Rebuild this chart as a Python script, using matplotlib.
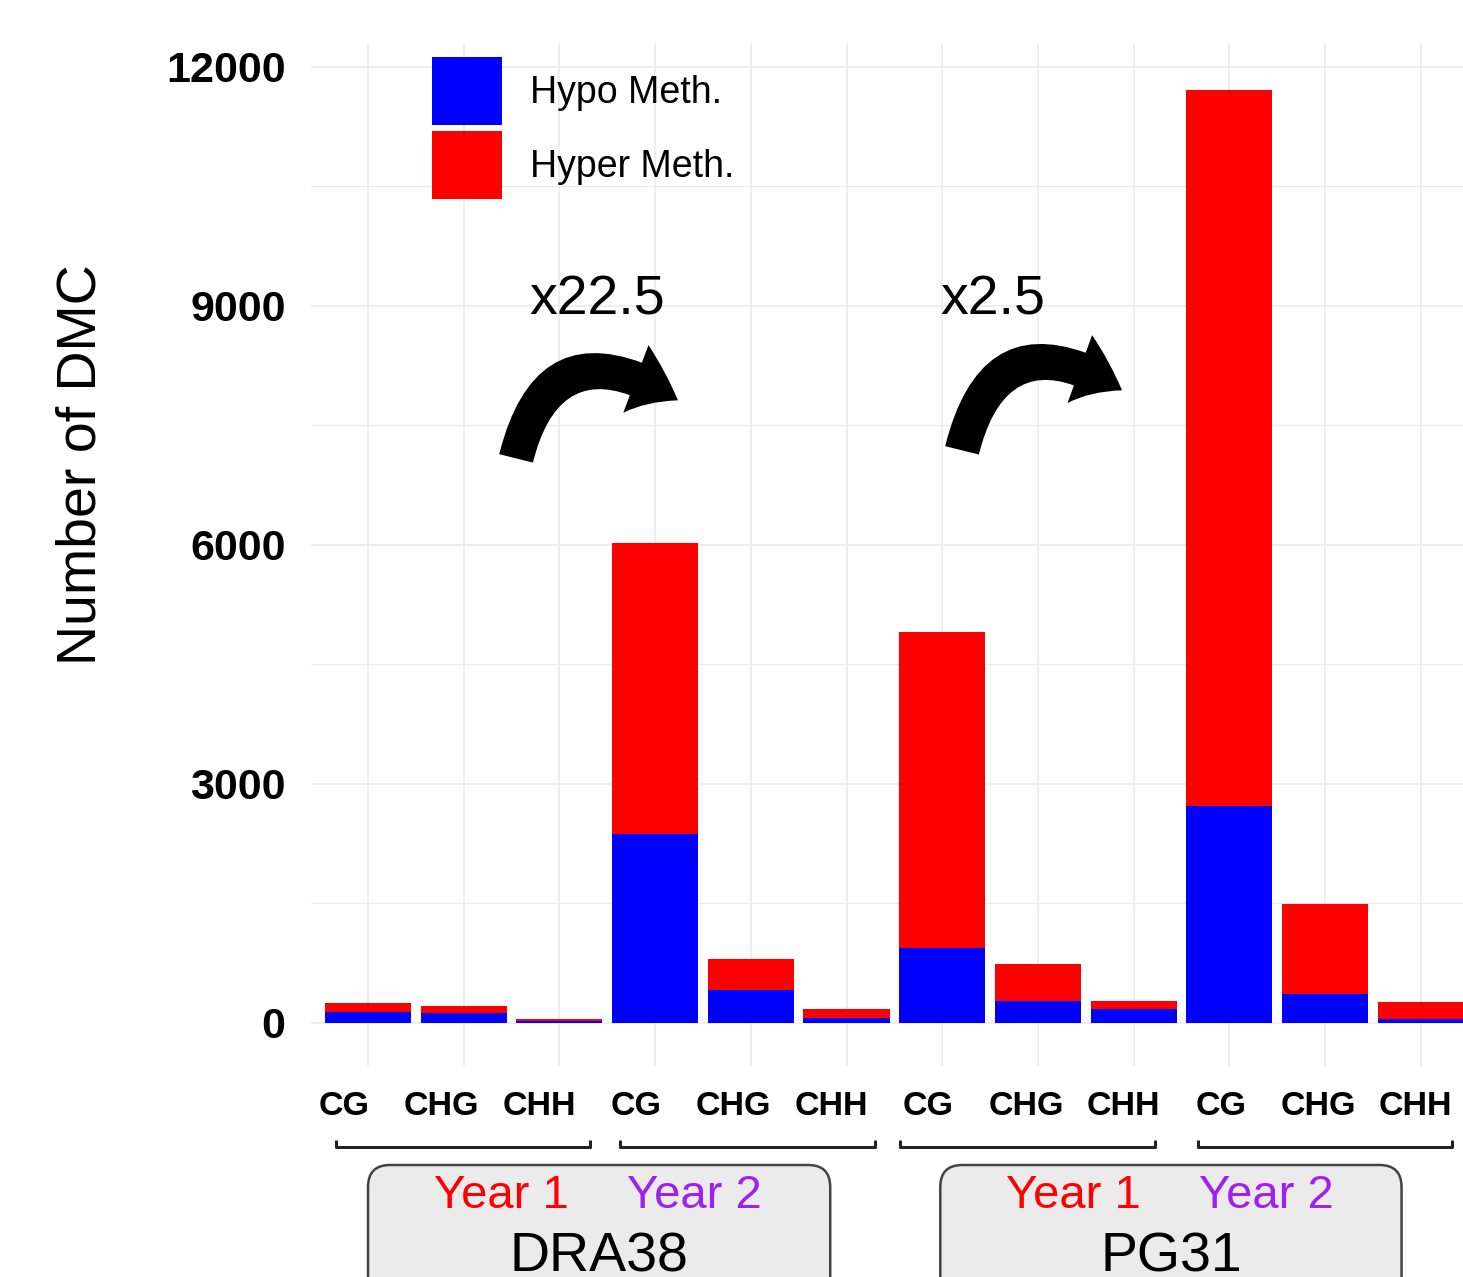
import matplotlib
matplotlib.use("Agg")
import matplotlib.pyplot as plt
import matplotlib.transforms as mtransforms
from matplotlib.patches import FancyBboxPatch, Patch
import numpy as np

plt.rcParams['font.family'] = ['Liberation Sans', 'DejaVu Sans']

# data
contexts = ["CG", "CHG", "CHH"] * 4
hypo = np.array([134, 122, 20, 2370, 415, 59, 940, 276, 172, 2720, 360, 50])
total = np.array([248, 214, 50, 6025, 805, 172, 4905, 740, 276, 11710, 1495, 268])
hyper = total - hypo
genotypes = ["DRA38", "PG31"]
years = ["Year 1", "Year 2"]
fold_labels = ["x22.5", "x2.5"]

BLUE = "#0000FF"
RED = "#FF0000"
PURPLE = "#A020F0"
GRID = "#EBEBEB"

fig = plt.figure(figsize=(14.63, 12.77), dpi=100)
W, H = 1463.0, 1277.0
# panel is wider than the picture: the right side is cropped like the original
ax = fig.add_axes([310.6 / W, 1 - 1066 / H, 1167.5 / W, 1023 / H])

x = np.arange(len(contexts))
ax.bar(x, hypo, width=0.9, color=BLUE, zorder=3)
ax.bar(x, hyper, width=0.9, bottom=hypo, color=RED, zorder=3)

ax.set_xlim(-0.6, 11.6)
ax.set_ylim(-540, 12301)

# grid
ax.set_yticks([0, 3000, 6000, 9000, 12000])
ax.set_yticks([1500, 4500, 7500, 10500], minor=True)
ax.set_xticks(x + 0.0, minor=True)
ax.grid(True, which='major', axis='y', color=GRID, lw=1.2, zorder=0)
ax.grid(True, which='minor', axis='y', color=GRID, lw=0.9, zorder=0)
ax.grid(True, which='minor', axis='x', color=GRID, lw=1.2, zorder=0)

# x labels sit a bit left of the bars in the original
lab_pos = x * 1.018 - 0.25
ax.set_xticks(lab_pos)
ax.set_xticklabels(contexts, fontsize=24.5, fontweight='bold')
ax.tick_params(axis='x', which='both', length=0, pad=18)
ax.tick_params(axis='y', which='both', length=0, pad=18, labelsize=31)
for t in ax.get_yticklabels():
    t.set_fontweight('bold')
for s in ax.spines.values():
    s.set_visible(False)

ax.text(-0.196, 0.5875, "Number of DMC", transform=ax.transAxes, rotation=90,
        ha='center', va='center', fontsize=40)

# legend
handles = [Patch(facecolor=BLUE, edgecolor='none', label="Hypo Meth."),
           Patch(facecolor=RED, edgecolor='none', label="Hyper Meth.")]
ax.legend(handles=handles, loc='upper left', bbox_to_anchor=(432 / W, 1 - 57 / H),
          bbox_transform=fig.transFigure, frameon=False, fontsize=27,
          handlelength=1.87, handleheight=2.42, labelspacing=0.16,
          handletextpad=0.75, borderpad=0, borderaxespad=0)

# fold change arrows
arrows = [((1.547, 7087), (3.239, 7816)), ((6.207, 7188), (7.879, 7942))]
label_x = [2.40, 6.53]
for (tail, tip), lab, lx in zip(arrows, fold_labels, label_x):
    ax.annotate("", xy=tip, xytext=tail,
                arrowprops=dict(arrowstyle="simple,head_length=1.7,head_width=2.6,tail_width=1.25",
                                connectionstyle="angle3,angleA=76,angleB=-32",
                                fc='black', ec='none', mutation_scale=20,
                                shrinkA=0, shrinkB=0), zorder=4)
    ax.text(lx, 9073, lab, fontsize=40, ha='center', va='center', zorder=4)

# brackets and strips below the axis (x in data, y in inches from bottom)
trans = mtransforms.blended_transform_factory(ax.transData, fig.dpi_scale_trans)
brackets = [(-0.33, 2.32), (2.63, 5.30), (5.56, 8.22), (8.67, 11.33)]
for a, b in brackets:
    ax.plot([a, a, b, b], [1.37, 1.30, 1.30, 1.37], color='#222222', lw=2.2,
            transform=trans, clip_on=False, solid_capstyle='butt')

strips = [(0.0, 4.83), (5.98, 10.80)]
for (a, b), g in zip(strips, genotypes):
    box = FancyBboxPatch((a, -0.3), b - a, 1.42, boxstyle="round,pad=0,rounding_size=0.23",
                         mutation_aspect=0.957, transform=trans, clip_on=False,
                         fc='#EBEBEB', ec='#444444', lw=1.8)
    ax.add_patch(box)
    mid = (a + b) / 2
    ax.text(mid - 1.02, 0.81, years[0], color=RED, fontsize=34, ha='center', va='center',
            transform=trans)
    ax.text(mid + 1.0, 0.81, years[1], color=PURPLE, fontsize=34, ha='center', va='center',
            transform=trans)
    ax.text(mid, 0.2, g, color='black', fontsize=40, ha='center', va='center',
            transform=trans)

fig.savefig("out.png", dpi=100)
